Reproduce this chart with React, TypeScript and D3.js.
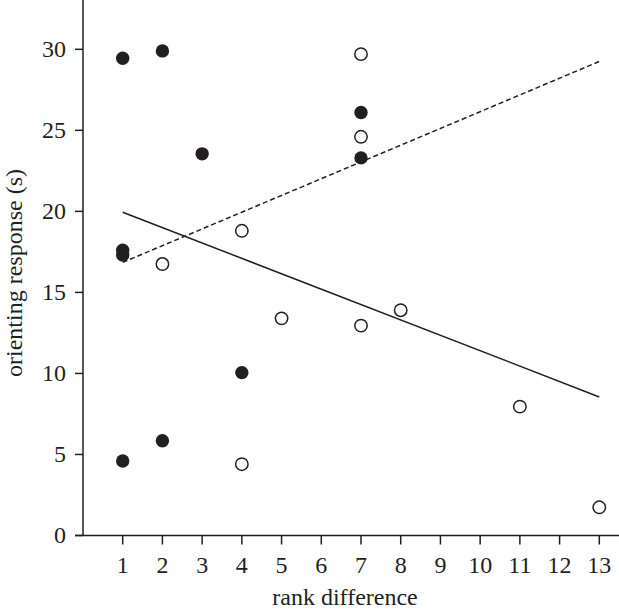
import React from "react";
import * as d3 from "d3";

const filledX = [1, 2, 3, 1, 1, 7, 7, 4, 2, 1];
const filledY = [29.45, 29.9, 23.55, 17.6, 17.3, 26.1, 23.3, 10.05, 5.85, 4.6];
const openX = [7, 7, 4, 2, 5, 7, 8, 11, 4, 13];
const openY = [29.7, 24.6, 18.8, 16.75, 13.4, 12.95, 13.9, 7.95, 4.4, 1.74];
const solidLineX = [1, 13];
const solidLineY = [19.95, 8.55];
const dashedLineX = [1, 13];
const dashedLineY = [16.85, 29.25];
const xTicks = [1, 2, 3, 4, 5, 6, 7, 8, 9, 10, 11, 12, 13];
const yTicks = [0, 5, 10, 15, 20, 25, 30];

const W = 619;
const H = 610;
const ink = "#231f20";
const font = "'Liberation Serif', 'Times New Roman', serif";

export default function App() {
  const x = d3.scaleLinear().domain([1, 13]).range([122.7, 599.3]);
  const y = d3.scaleLinear().domain([0, 30]).range([535.5, 49.3]);
  const axisX = 83;
  const axisY = y(0);
  const line = d3
    .line<[number, number]>()
    .x((d) => x(d[0]))
    .y((d) => y(d[1]));
  const solid: [number, number][] = solidLineX.map((v, i) => [v, solidLineY[i]]);
  const dashed: [number, number][] = dashedLineX.map((v, i) => [v, dashedLineY[i]]);

  return (
    <svg
      width={W}
      height={H}
      style={{ position: "absolute", left: 0, top: 0, background: "#fff" }}
      fontFamily={font}
    >
      <rect width={W} height={H} fill="#fff" />
      {/* axes */}
      <line x1={axisX} y1={0} x2={axisX} y2={axisY} stroke={ink} strokeWidth={1.5} />
      <line x1={75} y1={axisY} x2={W} y2={axisY} stroke={ink} strokeWidth={1.5} />
      {yTicks.map((t) => (
        <g key={"y" + t}>
          <line x1={75} x2={axisX} y1={y(t)} y2={y(t)} stroke={ink} strokeWidth={1.5} />
          <text x={66} y={y(t)} dy="0.33em" textAnchor="end" fontSize={24} fill={ink}>
            {t}
          </text>
        </g>
      ))}
      {xTicks.map((t) => (
        <g key={"x" + t}>
          <line x1={x(t)} x2={x(t)} y1={axisY} y2={axisY + 9} stroke={ink} strokeWidth={1.5} />
          <text x={x(t)} y={573} textAnchor="middle" fontSize={24} fill={ink}>
            {t}
          </text>
        </g>
      ))}
      <text x={345} y={605} textAnchor="middle" fontSize={24} fill={ink}>
        rank difference
      </text>
      <text
        transform={`translate(22, 273) rotate(-90)`}
        textAnchor="middle"
        fontSize={24}
        fill={ink}
      >
        orienting response (s)
      </text>
      {/* regression lines */}
      <path d={line(solid) || ""} fill="none" stroke={ink} strokeWidth={1.5} />
      <path
        d={line(dashed) || ""}
        fill="none"
        stroke={ink}
        strokeWidth={1.5}
        strokeDasharray="5,3"
      />
      {/* points */}
      {openX.map((v, i) => (
        <circle
          key={"o" + i}
          cx={x(v)}
          cy={y(openY[i])}
          r={6.2}
          fill="#fff"
          stroke={ink}
          strokeWidth={1.5}
        />
      ))}
      {filledX.map((v, i) => (
        <circle key={"f" + i} cx={x(v)} cy={y(filledY[i])} r={6.7} fill={ink} />
      ))}
    </svg>
  );
}
